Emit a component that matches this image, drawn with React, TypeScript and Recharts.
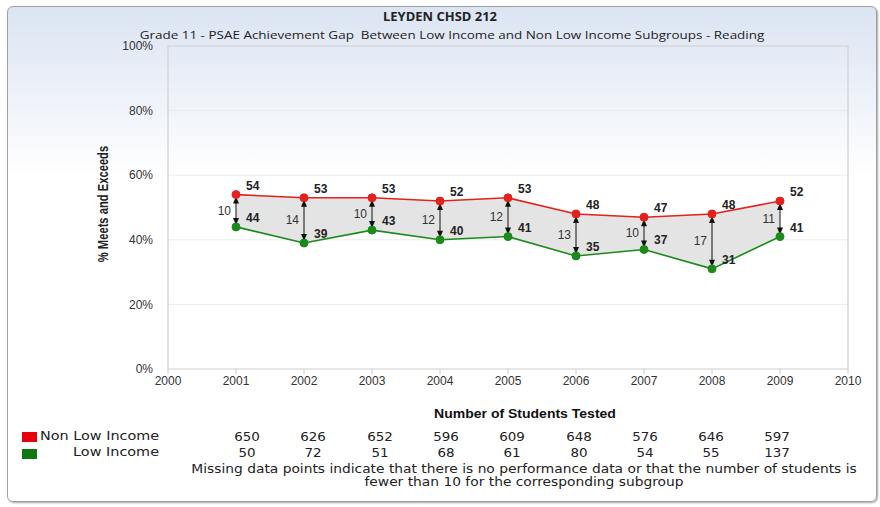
import React from "react";
import {
  ComposedChart,
  Line,
  Area,
  Bar,
  XAxis,
  YAxis,
  CartesianGrid,
  ReferenceArea,
  LabelList,
} from "recharts";

const years = [2001, 2002, 2003, 2004, 2005, 2006, 2007, 2008, 2009];
const nonLowIncome = [54, 53, 53, 52, 53, 48, 47, 48, 52];
const lowIncome = [44, 39, 43, 40, 41, 35, 37, 31, 41];
const nonLowTested = [650, 626, 652, 596, 609, 648, 576, 646, 597];
const lowTested = [50, 72, 51, 68, 61, 80, 54, 55, 137];
const xTicks = [2000, 2001, 2002, 2003, 2004, 2005, 2006, 2007, 2008, 2009, 2010];
const yTicks = [0, 20, 40, 60, 80, 100];

const data = years.map((year, i) => ({
  year,
  high: nonLowIncome[i],
  low: lowIncome[i],
  range: [lowIncome[i], nonLowIncome[i]],
  gap: nonLowIncome[i] - lowIncome[i],
}));

const RED = "#e4211c";
const GREEN = "#1b8a1b";

const ArrowShape = (props: any) => {
  const { x, y, width, height } = props;
  const cx = x + width / 2;
  const top = Math.min(y, y + height);
  const bottom = Math.max(y, y + height);
  const t = top + 2;
  const b = bottom - 2;
  return (
    <g>
      <line x1={cx} y1={t} x2={cx} y2={b} stroke="#111" strokeWidth={1} />
      <polygon points={`${cx},${t} ${cx - 3},${t + 7} ${cx + 3},${t + 7}`} fill="#111" />
      <polygon points={`${cx},${b} ${cx - 3},${b - 7} ${cx + 3},${b - 7}`} fill="#111" />
    </g>
  );
};

const gapLabel = (props: any) => {
  const { x, y, width, height, value } = props;
  const cx = x + width / 2;
  const mid = y + height / 2;
  return (
    <text
      x={cx - 5}
      y={mid + 4}
      textAnchor="end"
      fontSize={12}
      fontFamily="Liberation Sans, Arial, sans-serif"
      fill="#333"
    >
      {value}
    </text>
  );
};

const valueLabel = (props: any) => {
  const { x, y, value } = props;
  return (
    <text
      x={x + 10}
      y={y - 5}
      textAnchor="start"
      fontSize={12}
      fontWeight="bold"
      fontFamily="Liberation Sans, Arial, sans-serif"
      fill="#222"
    >
      {value}
    </text>
  );
};

const colCenter = (i: number) => 247 + i * 66.3;

const tableText: React.CSSProperties = {
  fontFamily: "DejaVu Sans, Verdana, sans-serif",
  fontSize: 12,
  color: "#222",
  whiteSpace: "nowrap",
};

export default function App() {
  return (
    <div
      style={{
        position: "absolute",
        left: 0,
        top: 0,
        width: 880,
        height: 507,
        background: "#fff",
        overflow: "hidden",
      }}
    >
      <div
        style={{
          position: "absolute",
          left: 7,
          top: 6,
          width: 870,
          height: 496,
          border: "1px solid #a0a0a0",
          borderRadius: 6,
          boxShadow: "1px 1px 2px rgba(0,0,0,0.35)",
          background: "linear-gradient(to bottom, #dbe4f2 0px, #eef2f9 90px, #ffffff 170px, #ffffff 100%)",
          boxSizing: "border-box",
        }}
      />
      <div
        style={{
          position: "absolute",
          left: 0,
          width: 880,
          top: 11,
          lineHeight: "12px",
          textAlign: "center",
          fontFamily: "Open Sans, sans-serif",
          fontWeight: "bold",
          fontSize: 12,
          color: "#222",
          transform: "scaleX(1.08)",
        }}
      >
        LEYDEN CHSD 212
      </div>
      <div
        style={{
          position: "absolute",
          left: 12,
          width: 880,
          top: 30,
          lineHeight: "10px",
          textAlign: "center",
          fontFamily: "Open Sans, sans-serif",
          fontSize: 11.5,
          color: "#222",
          transform: "scaleX(1.17)",
          whiteSpace: "nowrap",
        }}
      >
        Grade 11 - PSAE Achievement Gap&nbsp; Between Low Income and Non Low Income Subgroups - Reading
      </div>
      <div style={{ position: "absolute", left: 0, top: 0 }}>
        <ComposedChart
          width={880}
          height={507}
          data={data}
          margin={{ top: 46, right: 32, bottom: 108, left: 0 }}
        >
          <CartesianGrid
            horizontal={true}
            vertical={false}
            stroke="#ececec"
            horizontalValues={[20, 40, 60, 80]}
          />
          <ReferenceArea
            x1={2000}
            x2={2010}
            y1={0}
            y2={100}
            fill="none"
            stroke="#cfcfcf"
            strokeWidth={1.2}
            ifOverflow="visible"
          />
          <XAxis
            dataKey="year"
            type="number"
            domain={[2000, 2010]}
            ticks={xTicks}
            axisLine={false}
            tickLine={{ stroke: "#ccc" }}
            tickSize={5}
            tick={{ fontSize: 12, fill: "#333", fontFamily: "Liberation Sans, Arial, sans-serif" }}
            interval={0}
          />
          <YAxis
            type="number"
            domain={[0, 100]}
            ticks={yTicks}
            width={168}
            axisLine={false}
            tickLine={false}
            tickMargin={9}
            tickFormatter={(v: number) => `${v}%`}
            tick={{ fontSize: 12, fill: "#333", fontFamily: "Liberation Sans, Arial, sans-serif" }}
          />
          <Area
            dataKey="range"
            type="linear"
            fill="#e4e4e4"
            fillOpacity={1}
            stroke="none"
            isAnimationActive={false}
            activeDot={false}
          />
          <Bar dataKey="range" barSize={8} shape={ArrowShape} isAnimationActive={false}>
            <LabelList dataKey="gap" content={gapLabel} />
          </Bar>
          <Line
            dataKey="high"
            type="linear"
            stroke={RED}
            strokeWidth={1.6}
            dot={{ r: 4, fill: RED, stroke: RED, strokeWidth: 1 }}
            activeDot={false}
            isAnimationActive={false}
          >
            <LabelList dataKey="high" content={valueLabel} />
          </Line>
          <Line
            dataKey="low"
            type="linear"
            stroke={GREEN}
            strokeWidth={1.6}
            dot={{ r: 4, fill: GREEN, stroke: GREEN, strokeWidth: 1 }}
            activeDot={false}
            isAnimationActive={false}
          >
            <LabelList dataKey="low" content={valueLabel} />
          </Line>
        </ComposedChart>
      </div>
      <div
        style={{
          position: "absolute",
          left: 103 - 80,
          top: 204 - 9,
          width: 160,
          height: 18,
          lineHeight: "18px",
          textAlign: "center",
          transform: "rotate(-90deg) scaleX(0.8)",
          fontFamily: "Liberation Sans Narrow, Liberation Sans, Arial, sans-serif",
          fontWeight: "bold",
          fontSize: 14,
          color: "#222",
        }}
      >
        % Meets and Exceeds
      </div>
      <div
        style={{
          position: "absolute",
          left: 525 - 150,
          width: 300,
          top: 407,
          textAlign: "center",
          fontFamily: "Liberation Sans Narrow, Liberation Sans, Arial, sans-serif",
          fontWeight: "bold",
          fontSize: 12.5,
          color: "#111",
          transform: "scaleX(1.12)",
        }}
      >
        Number of Students Tested
      </div>
      <div style={{ position: "absolute", left: 22, top: 432, width: 15, height: 10, background: "#e8000b" }} />
      <div style={{ position: "absolute", left: 22, top: 449, width: 15, height: 10, background: "#117711" }} />
      <div
        style={{
          ...tableText,
          position: "absolute",
          left: 40,
          top: 429,
          transform: "scaleX(1.2)",
          transformOrigin: "left center",
        }}
      >
        Non Low Income
      </div>
      <div
        style={{
          ...tableText,
          position: "absolute",
          left: 40,
          width: 119,
          top: 445,
          textAlign: "right",
          transform: "scaleX(1.2)",
          transformOrigin: "right center",
        }}
      >
        Low Income
      </div>
      {nonLowTested.map((v, i) => (
        <div
          key={`n${i}`}
          style={{
            ...tableText,
            position: "absolute",
            left: colCenter(i) - 30,
            width: 60,
            top: 430,
            textAlign: "center",
            transform: "scaleX(1.12)",
          }}
        >
          {v}
        </div>
      ))}
      {lowTested.map((v, i) => (
        <div
          key={`l${i}`}
          style={{
            ...tableText,
            position: "absolute",
            left: colCenter(i) - 30,
            width: 60,
            top: 446,
            textAlign: "center",
            transform: "scaleX(1.12)",
          }}
        >
          {v}
        </div>
      ))}
      <div
        style={{
          position: "absolute",
          left: 524 - 360,
          width: 720,
          top: 463,
          textAlign: "center",
          fontFamily: "DejaVu Sans, Verdana, sans-serif",
          fontSize: 11.5,
          lineHeight: "13px",
          color: "#222",
          transform: "scaleX(1.2)",
          whiteSpace: "nowrap",
        }}
      >
        Missing data points indicate that there is no performance data or that the number of students is
        <br />
        fewer than 10 for the corresponding subgroup
      </div>
    </div>
  );
}
